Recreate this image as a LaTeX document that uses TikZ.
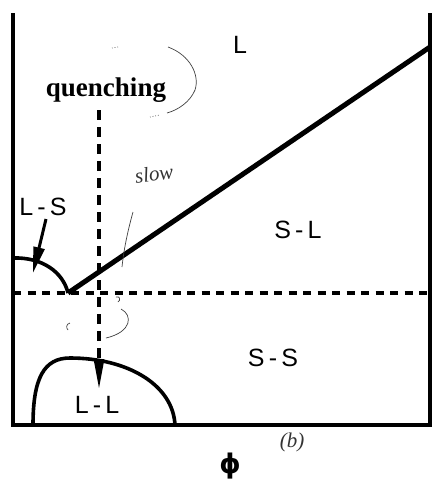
\documentclass[tikz,border=0pt]{standalone}
\usepackage{fontspec}
\setmainfont{Liberation Serif}
\setsansfont{Liberation Sans}
\newfontfamily\phifont{DejaVu Sans}
\usetikzlibrary{arrows.meta}
\tikzset{
  frame/.style={line width=3.2pt},
  bound/.style={line width=3.6pt},
  thickline/.style={line width=5pt},
  dashline/.style={line width=3.2pt, dash pattern=on 8pt off 6.5pt},
  vdash/.style={line width=3.2pt, dash pattern=on 10pt off 7pt},
  region/.style={font=\sffamily\fontsize{25}{25}\selectfont, inner sep=0pt},
  hand/.style={line width=0.7pt, black!75},
  handtext/.style={font=\itshape\fontsize{21}{21}\selectfont, text=black!80, inner sep=0pt}
}
\begin{document}
\begin{tikzpicture}[x=1pt,y=-1pt]
\useasboundingbox (0,0) rectangle (441,482);
% frame
\coordinate (tl) at (13,13);
\coordinate (bl) at (13,425);
\coordinate (br) at (430,425);
\coordinate (tr) at (430,13);
\draw[frame] (tl) -- (bl) -- (br) -- (tr);
% key points
\coordinate (tp) at (68,293);
\coordinate (de) at (430,47);
\coordinate (hl) at (13,293);
\coordinate (hr) at (430,293);
% horizontal dashed line
\draw[dashline] (hl) -- (hr);
% L-S boundary
\coordinate (ls0) at (13,258);
\draw[bound] (ls0) .. controls (42,257) and (63,272) .. (tp);
% S-L diagonal
\draw[thickline] (tp) -- (de);
% L-L dome
\coordinate (ll0) at (33,425);
\coordinate (lltop) at (70,358);
\coordinate (ll1) at (175,425);
\draw[bound] (ll0) .. controls (33,378) and (44,358) .. (lltop)
  .. controls (128,358) and (173,385) .. (ll1);
% labels
\node[region] (L) at (240,45) {L};
\node[region] (SL) at (298,230) {S\,-\,L};
\node[region] (SS) at (273,358) {S\,-\,S};
\node[region] (LL) at (97,405) {L\,-\,L};
\node[region] (LS) at (43,207) {L\,-\,S};
\node[font=\bfseries\fontsize{27}{27}\selectfont, inner sep=0pt] (q) at (106,90) {quenching};
\node[font=\phifont\bfseries\fontsize{27}{27}\selectfont, inner sep=0pt] (phi) at (230,466) {ϕ};
% L-S arrow
\coordinate (lsa0) at (46,219);
\coordinate (lsa1) at (33,273);
\draw[line width=3pt, -{Triangle[width=11pt,length=26pt]}] (lsa0) -- (lsa1);
% quench arrow
\coordinate (qa0) at (99,110);
\coordinate (qa1) at (99,359);
\coordinate (qa2) at (99,389);
\draw[vdash] (qa0) -- (qa1);
\draw[line width=3pt, -{Triangle[width=10pt,length=30pt]}] (qa1) -- (qa2);
% handwritten annotations
\draw[hand] (168,47) .. controls (190,55) and (200,75) .. (195,90)
  .. controls (190,102) and (178,110) .. (167,113);
\draw[hand, dotted] (150,117) -- (160,115);
\draw[hand, dotted] (112,48) -- (118,47);
\node[handtext, rotate=8] (slow) at (154,174) {slow};
\draw[hand] (133,212) .. controls (128,230) and (124,248) .. (122,267);
\draw[hand] (116,297) .. controls (120,296) and (121,300) .. (118,302);
\draw[hand] (121,309) .. controls (133,315) and (132,332) .. (106,338);
\draw[hand] (70,323) .. controls (66,324) and (66,328) .. (68,330);
\node[handtext] (b) at (292,442) {(b)};
\end{tikzpicture}
\end{document}
